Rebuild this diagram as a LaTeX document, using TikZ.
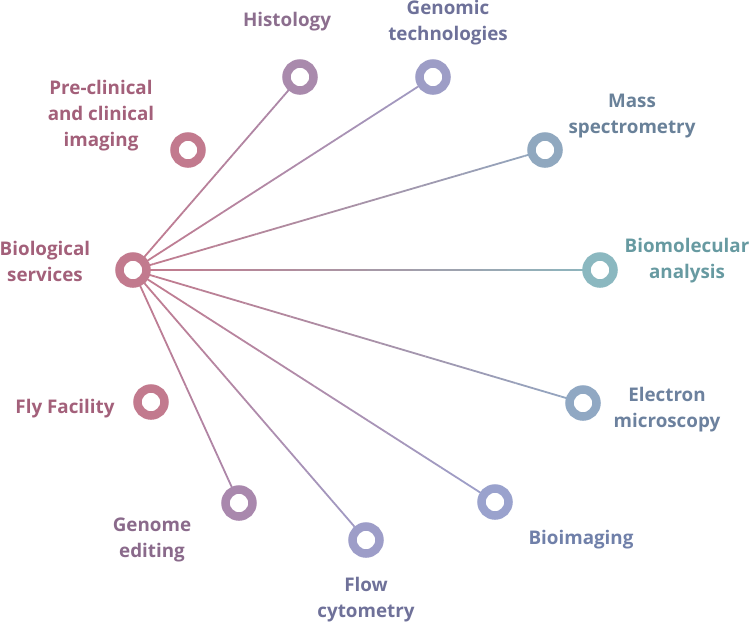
\documentclass[tikz,border=0pt]{standalone}
\usepackage{fontspec}
\setmainfont{Open Sans}
\usetikzlibrary{calc, backgrounds}

\definecolor{hubc}{HTML}{C27A8E}
\definecolor{hubt}{HTML}{A3607A}
\definecolor{histc}{HTML}{A98AAC}
\definecolor{histt}{HTML}{8C6E8E}
\definecolor{genc}{HTML}{9D9DC6}
\definecolor{gent}{HTML}{6E7199}
\definecolor{massc}{HTML}{90A8BF}
\definecolor{masst}{HTML}{698199}
\definecolor{bmolc}{HTML}{8BB8C0}
\definecolor{bmolt}{HTML}{679AA1}
\definecolor{elecc}{HTML}{90A8C3}
\definecolor{elect}{HTML}{6C819E}
\definecolor{bimgc}{HTML}{9AA2CD}
\definecolor{bimgt}{HTML}{7080A9}
\definecolor{flowc}{HTML}{9D9DC8}
\definecolor{flowt}{HTML}{6F7199}
\definecolor{editc}{HTML}{A988AD}
\definecolor{editt}{HTML}{8A6A8B}

\tikzset{
  ring/.style={circle, draw=#1, fill=white, line width=8.5pt, minimum size=27pt, inner sep=0pt},
  lbl/.style={text=#1, font=\fontsize{18.8}{26}\selectfont\bfseries, align=center},
  conn/.style={line width=1.8pt}
}

% gradient connector from the hub to #1, ending in colour #2
\newcommand\link[2]{%
  \foreach \k in {0,...,19}{
    \pgfmathtruncatemacro\mix{100-\k*5}
    \draw[conn, draw=hubc!\mix!#2] ($(hub)!\k/20!(#1)$) -- ($(hub)!{(\k+1)/20}!(#1)$);
  }}

\begin{document}
\begin{tikzpicture}[x=1pt, y=-1pt]
  \useasboundingbox (0,0) rectangle (750,622);

  % circles
  \node[ring=hubc] (hub) at (133,270) {};
  \node[ring=histc] (hist) at (300,77) {};
  \node[ring=genc] (gen) at (433,77) {};
  \node[ring=hubc] (pre) at (188,150) {};
  \node[ring=massc] (mass) at (545,150) {};
  \node[ring=bmolc] (bmol) at (600,270) {};
  \node[ring=elecc] (elec) at (583,403) {};
  \node[ring=bimgc] (bimg) at (495,502) {};
  \node[ring=flowc] (flow) at (366,540) {};
  \node[ring=editc] (edit) at (239,503) {};
  \node[ring=hubc] (fly) at (151,402) {};

  % connectors
  \begin{pgfonlayer}{background}
    \link{hist}{histc}
    \link{gen}{genc}
    \link{mass}{massc}
    \link{bmol}{bmolc}
    \link{elec}{elecc}
    \link{bimg}{bimgc}
    \link{flow}{flowc}
    \link{edit}{editc}
  \end{pgfonlayer}

  % labels
  \node[lbl=hubt] (hubl) at (45,261) {Biological\\services};
  \node[lbl=histt] (histl) at (287,22) {Histology};
  \node[lbl=gent] (genl) at (448,23) {Genomic\\technologies};
  \node[lbl=hubt] (prel) at (101,116) {Pre-clinical\\and clinical\\imaging};
  \node[lbl=masst] (massl) at (632,116) {Mass\\spectrometry};
  \node[lbl=bmolt] (bmoll) at (687,261) {Biomolecular\\analysis};
  \node[lbl=elect] (elecl) at (667,410) {Electron\\microscopy};
  \node[lbl=bimgt] (bimgl) at (581,540) {Bioimaging};
  \node[lbl=flowt] (flowl) at (366,600) {Flow\\cytometry};
  \node[lbl=editt] (editl) at (152,540) {Genome\\editing};
  \node[lbl=hubt] (flyl) at (65,409) {Fly Facility};
\end{tikzpicture}
\end{document}
